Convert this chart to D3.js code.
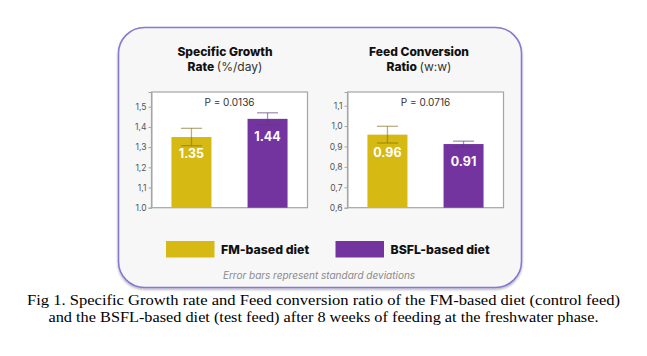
<!DOCTYPE html>
<html><head><meta charset="utf-8">
<script src="https://cdn.jsdelivr.net/npm/d3@7"></script>
<style>
html,body{margin:0;padding:0;background:#fff;}
svg{display:block;}
</style></head>
<body>
<svg id="c" width="647" height="356"></svg>
<script>
// ---- data ----
const diets = ["FM-based diet", "BSFL-based diet"];
const dietColors = ["#d6b912", "#7434a0"];
const sgrValues = [1.35, 1.44];
const sgrSD = [0.043, 0.030];
const sgrLabels = ["1.35", "1.44"];
const sgrTicks = [1.0, 1.1, 1.2, 1.3, 1.4, 1.5];
const sgrTickLabels = ["1.0", "1,1", "1,2", "1,3", "1,4", "1,5"];
const sgrP = "P = 0.0136";
const fcrValues = [0.958, 0.912];
const fcrSD = [0.041, 0.014];
const fcrLabels = ["0.96", "0.91"];
const fcrTicks = [0.6, 0.7, 0.8, 0.9, 1.0, 1.1];
const fcrTickLabels = ["0,6", "0,7", "0,8", "0,9", "1,0", "1,1"];
const fcrP = "P = 0.0716";
const footnote = "Error bars represent standard deviations";
const caption = [
  "Fig 1. Specific Growth rate and Feed conversion ratio of the FM-based diet (control feed)",
  "and the BSFL-based diet (test feed) after 8 weeks of feeding at the freshwater phase."
];

const svg = d3.select("#c");
const sans = "Inter, 'Open Sans', sans-serif";

// shadow filter
const defs = svg.append("defs");
const f = defs.append("filter").attr("id","sh").attr("x","-10%").attr("y","-10%").attr("width","120%").attr("height","130%");
f.append("feDropShadow").attr("dx",0).attr("dy",1.5).attr("stdDeviation",1.2).attr("flood-color","#000").attr("flood-opacity",0.3);

// panel
svg.append("rect").attr("x",118.5).attr("y",27.5).attr("width",403).attr("height",260)
  .attr("rx",26).attr("ry",26).attr("fill","#f7f7f7").attr("stroke","#8878d2").attr("stroke-width",1.6)
  .attr("filter","url(#sh)");

function chart(cfg){
  const g = svg.append("g");
  const x = d3.scaleBand().domain(diets).range([cfg.x0, cfg.x1]).paddingInner(0.95).paddingOuter(0.5);
  const y = d3.scaleLinear().domain(cfg.domain).range([207.7, 92]);
  const bw = 40;
  const xc = d => x(d) + x.bandwidth()/2;
  // box
  g.append("rect").attr("x",cfg.x0).attr("y",92).attr("width",cfg.x1-cfg.x0).attr("height",207.7-92)
    .attr("fill","#fff").attr("stroke","#a5a5a5").attr("stroke-width",1.2);
  // axis
  const ax = d3.axisLeft(y).tickValues(cfg.ticks).tickSize(3).tickPadding(2)
    .tickFormat((d,i)=>cfg.tickLabels[i]);
  const axg = g.append("g").attr("transform",`translate(${cfg.x0},0)`).call(ax);
  axg.select(".domain").attr("stroke","#a5a5a5");
  axg.selectAll(".tick line").attr("stroke","#a5a5a5");
  axg.selectAll("text").attr("font-family",sans).attr("font-size",8.5).attr("fill","#555");
  // bars
  g.selectAll(".bar").data(cfg.values).join("rect")
    .attr("x",(d,i)=>xc(diets[i])-bw/2).attr("width",bw)
    .attr("y",d=>y(d)).attr("height",d=>y(cfg.domain[0])-y(d))
    .attr("fill",(d,i)=>dietColors[i]);
  // error bars
  const ebCol = ["#7f6e18","#5a3a78"];
  cfg.values.forEach((v,i)=>{
    const cx = xc(diets[i]);
    const e = g.append("g").attr("stroke",ebCol[i]).attr("stroke-opacity",0.55).attr("stroke-width",1.3);
    e.append("line").attr("x1",cx).attr("x2",cx).attr("y1",y(v+cfg.sd[i])).attr("y2",y(v-cfg.sd[i]));
    e.append("line").attr("x1",cx-10.5).attr("x2",cx+10.5).attr("y1",y(v+cfg.sd[i])).attr("y2",y(v+cfg.sd[i]));
    e.append("line").attr("x1",cx-10.5).attr("x2",cx+10.5).attr("y1",y(v-cfg.sd[i])).attr("y2",y(v-cfg.sd[i]));
    g.append("text").attr("x",cx).attr("y",y(v)+cfg.labOff[i]).attr("text-anchor","middle")
      .attr("font-family",sans).attr("font-weight",700).attr("font-size",12.5).attr("fill","#fff")
      .text(cfg.labels[i]);
  });
  // p label
  g.append("text").attr("x",(cfg.x0+cfg.x1)/2).attr("y",105.5).attr("text-anchor","middle")
    .attr("font-family",sans).attr("font-size",10).attr("fill","#333").text(cfg.p);
  // title
  const t = g.append("g").attr("font-family",sans).attr("font-size",12).attr("fill","#111").attr("text-anchor","middle");
  t.append("text").attr("x",cfg.tx).attr("y",55.5).attr("font-weight",800).text(cfg.t1);
  const t2 = t.append("text").attr("x",cfg.tx).attr("y",71);
  t2.append("tspan").attr("font-weight",800).text(cfg.t2a);
  t2.append("tspan").attr("font-weight",400).attr("fill","#333").text(cfg.t2b);
}

chart({x0:151.5, x1:307.5, domain:[1.0,1.573], ticks:sgrTicks, tickLabels:sgrTickLabels,
  values:sgrValues, sd:sgrSD, labels:sgrLabels, labOff:[21,22], p:sgrP,
  tx:225, t1:"Specific Growth", t2a:"Rate ", t2b:"(%/day)"});
chart({x0:347.5, x1:503.5, domain:[0.6,1.167], ticks:fcrTicks, tickLabels:fcrTickLabels,
  values:fcrValues, sd:fcrSD, labels:fcrLabels, labOff:[22,22], p:fcrP,
  tx:419, t1:"Feed Conversion", t2a:"Ratio ", t2b:"(w:w)"});

// legend
const lg = svg.append("g");
const lx = [166, 335.5];
diets.forEach((d,i)=>{
  lg.append("rect").attr("x",lx[i]).attr("y",241).attr("width",48.5).attr("height",16.5).attr("fill",dietColors[i]);
  lg.append("text").attr("x",lx[i]+55).attr("y",253.5).attr("font-family",sans).attr("font-weight",800)
    .attr("font-size",12.3).attr("fill","#111").text(d);
});
svg.append("text").attr("x",319).attr("y",279).attr("text-anchor","middle").attr("font-family",sans)
  .attr("font-style","italic").attr("font-size",10).attr("fill","#8a8a8a").text(footnote);

// caption
const capW = [593, 550];
svg.selectAll(".cap").data(caption).join("text").attr("class","cap")
  .attr("x",(d,i)=>323.5 - capW[i]/2).attr("y",(d,i)=>305+i*17.3)
  .attr("textLength",(d,i)=>capW[i]).attr("lengthAdjust","spacingAndGlyphs")
  .attr("font-family","'Liberation Serif', 'Times New Roman', serif").attr("font-size",15.5).attr("fill","#000")
  .text(d=>d);
</script>
</body></html>
